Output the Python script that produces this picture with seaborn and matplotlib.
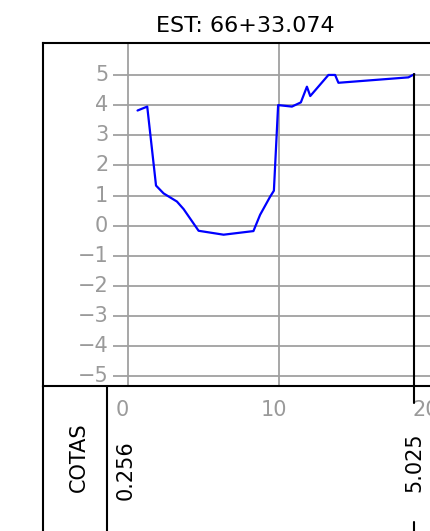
import matplotlib
matplotlib.use("Agg")
import matplotlib.pyplot as plt
from matplotlib.lines import Line2D
import seaborn as sns
import pandas as pd

# ---- data ----
title_text = "EST: 66+33.074"
dist = [0.63, 1.27, 1.85, 2.35, 3.23, 3.67, 4.66, 6.31, 8.28, 8.72, 9.38, 9.63,
        9.91, 10.82, 11.41, 11.81, 12.03, 13.23, 13.67, 13.89, 18.51, 18.90]
elev = [3.82, 3.95, 1.33, 1.07, 0.80, 0.55, -0.17, -0.30, -0.18, 0.36, 0.96, 1.16,
        4.00, 3.95, 4.09, 4.61, 4.30, 5.00, 5.00, 4.74, 4.92, 5.025]
y_ticks = [5, 4, 3, 2, 1, 0, -1, -2, -3, -4, -5]
x_ticks = [0, 10, 20]
row_label = "COTAS"
cota_pos = [0.0, 18.90]
cota_text = ["0.256", "5.025"]

sns.set_style("white")
plt.rcParams['font.family'] = ['DejaVu Sans']

W, H = 431, 531
fig = plt.figure(figsize=(W / 100, H / 100), dpi=100)

# axes frame in pixels
L, R, T, B = 43.3, 431.0, 43.3, 385.7
ax = fig.add_axes([L / W, 1 - B / H, (R - L) / W, (B - T) / H])
ax.set_xlim(-5.59, 20.0)
ax.set_ylim(-5.31, 6.05)
ax.set_xticks([])
ax.set_yticks([])
for s in ['top', 'left', 'bottom']:
    ax.spines[s].set_color('black')
    ax.spines[s].set_linewidth(1.5)
ax.spines['right'].set_visible(False)

grid_c = '#a0a0a0'
lab_c = '#9a9a9a'
ax.hlines(y_ticks, -1.0, 20.5, colors=grid_c, linewidth=1.3, zorder=1)
ax.vlines(x_ticks, -5.31, 6.05, colors=grid_c, linewidth=1.3, zorder=1)
for v in y_ticks:
    ax.text(-1.3, v, f"{v}".replace('-', '\u2212'), ha='right', va='center',
            fontsize=15, color=lab_c)

df = pd.DataFrame({"dist": dist, "elev": elev})
sns.lineplot(data=df, x="dist", y="elev", ax=ax, color='#0000ff', linewidth=1.6,
             sort=False, estimator=None, zorder=3)
ax.set_xlabel("")
ax.set_ylabel("")

# end vertical black line
ax.plot([dist[-1], dist[-1]], [elev[-1], -5.88], color='black', linewidth=1.5,
        clip_on=False, zorder=4)
ax.plot([dist[-1], dist[-1]], [-9.83, -10.2], color='black', linewidth=1.5,
        clip_on=False, zorder=4)

# x tick labels below frame
for v in x_ticks:
    ax.text(v - 0.35, -6.1, str(v), ha='center', va='center', fontsize=15,
            color=lab_c, clip_on=False)

# table lines (figure pixel coords)
def fx(px):
    return px / W

def fy(py):
    return 1 - py / H

fig.add_artist(Line2D([fx(L), fx(L)], [fy(B), fy(H + 2)], color='black', linewidth=1.5))
fig.add_artist(Line2D([fx(106.7), fx(106.7)], [fy(B), fy(H + 2)], color='black', linewidth=1.5))

fig.text(fx(79), fy(457), row_label, rotation=90, ha='center', va='center',
         fontsize=15, color='black')
fig.text(fx(126), fy(470), cota_text[0], rotation=90, ha='center', va='center',
         fontsize=15, color='black')
fig.text(fx(414), fy(462), cota_text[1], rotation=90, ha='center', va='center',
         fontsize=15, color='black')

fig.text(fx(245), fy(26.5), title_text, ha='center', va='center', fontsize=16,
         color='black')

fig.savefig("out.png", dpi=100)
